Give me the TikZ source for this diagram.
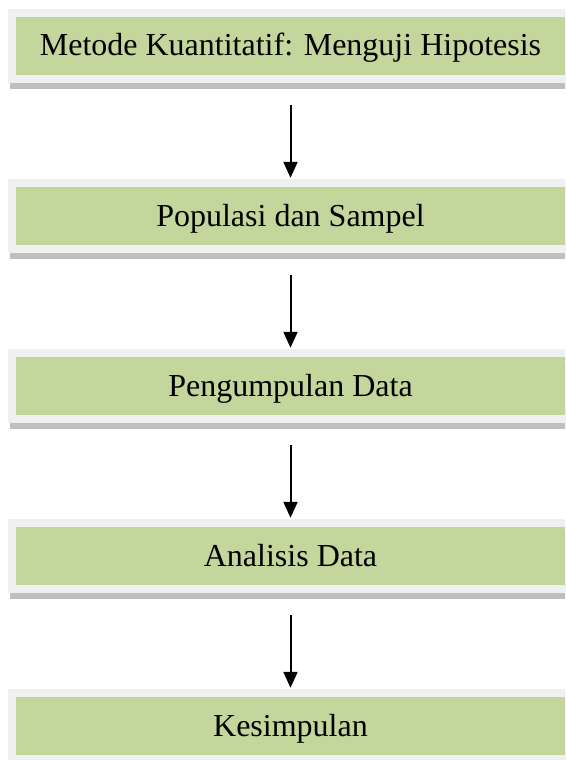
\documentclass[tikz,border=0pt]{standalone}
\usepackage{fontspec}
\setmainfont{Liberation Serif}
\usetikzlibrary{arrows.meta}
\definecolor{boxgreen}{HTML}{C3D69B}
\definecolor{framegray}{HTML}{F0F0F0}
\definecolor{shadowgray}{HTML}{BFBFBF}

\begin{document}
\begin{tikzpicture}[x=1pt, y=1pt]
  \tikzstyle{stepbox}=[fill=boxgreen, inner sep=0pt,
    minimum width=549pt, minimum height=58pt,
    text height=23pt, text depth=3pt,
    font=\fontsize{32pt}{38pt}\selectfont,
    preaction={fill=shadowgray, draw=shadowgray, line width=16pt,
      transform canvas={xshift=2pt, yshift=-6pt}},
    preaction={draw=framegray, line width=16pt}];
  \tikzstyle{flow}=[black, line width=2pt,
    -{Triangle[width=14pt, length=16pt]},
    shorten <=30pt, shorten >=9pt];
  %
  % page
  \useasboundingbox (0, 0) rectangle (565, -760);
  \clip (0, 0) rectangle (565, -760);
  %
  % steps
  \node[stepbox] (metode) at (290.5, -46) {Metode Kuantitatif: Menguji Hipotesis};
  \node[stepbox] (populasi) at (290.5, -216) {Populasi dan Sampel};
  \node[stepbox] (pengumpulan) at (290.5, -386) {Pengumpulan Data};
  \node[stepbox] (analisis) at (290.5, -556) {Analisis Data};
  \node[stepbox] (kesimpulan) at (290.5, -726) {Kesimpulan};
  %
  % arrows
  \draw[flow] (metode) -- (populasi);
  \draw[flow] (populasi) -- (pengumpulan);
  \draw[flow] (pengumpulan) -- (analisis);
  \draw[flow] (analisis) -- (kesimpulan);
\end{tikzpicture}
\end{document}
